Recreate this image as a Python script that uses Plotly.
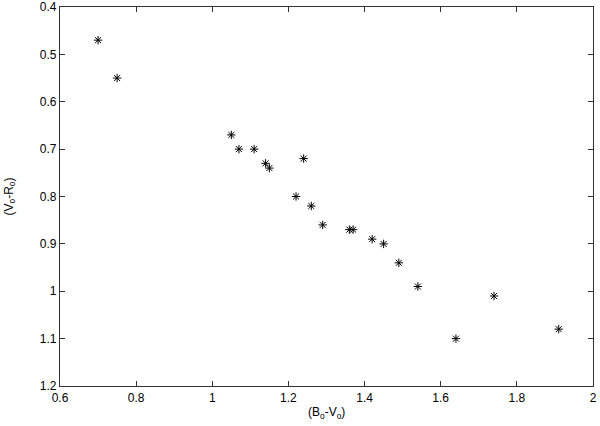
import plotly.graph_objects as go

# colour indices
bv = [0.70, 0.75, 1.05, 1.07, 1.11, 1.14, 1.15, 1.24, 1.22, 1.26,
      1.29, 1.36, 1.37, 1.42, 1.45, 1.49, 1.54, 1.64, 1.74, 1.91]
vr = [0.47, 0.55, 0.67, 0.70, 0.70, 0.73, 0.74, 0.72, 0.80, 0.82,
      0.86, 0.87, 0.87, 0.89, 0.90, 0.94, 0.99, 1.10, 1.01, 1.08]

x_ticks = [0.6, 0.8, 1, 1.2, 1.4, 1.6, 1.8, 2]
y_ticks = [0.4, 0.5, 0.6, 0.7, 0.8, 0.9, 1, 1.1, 1.2]

font_name = 'Liberation Sans, Arial'

fig = go.Figure()
fig.add_trace(go.Scatter(
    x=bv, y=vr, mode='markers',
    marker=dict(symbol='asterisk-open', size=7, color='black',
                line=dict(color='black', width=1)),
    showlegend=False))

axis_style = dict(
    showline=True, linecolor='#333333', linewidth=1.2, mirror='ticks',
    ticks='inside', ticklen=5, tickcolor='#333333', tickwidth=1,
    showgrid=False, zeroline=False, automargin=False,
    tickfont=dict(family=font_name, size=12, color='black'),
)

fig.update_xaxes(range=[0.6, 2.0000001], tickvals=x_ticks,
                 ticktext=[f'{v:g}' for v in x_ticks], **axis_style)
fig.update_yaxes(range=[1.2, 0.4], tickvals=y_ticks,
                 ticktext=[f'{v:g}' for v in y_ticks], **axis_style)

# axis titles placed by hand, gnuplot style
fig.add_annotation(text='(B<sub>o</sub>-V<sub>o</sub>)', xref='paper', yref='paper',
                   x=0.5, y=0, yanchor='top', yshift=-17, showarrow=False,
                   font=dict(family=font_name, size=12, color='black'))
fig.add_annotation(text='(V<sub>o</sub>-R<sub>o</sub>)', xref='paper', yref='paper',
                   x=0, y=0.5, xanchor='right', xshift=-41, textangle=-90,
                   showarrow=False,
                   font=dict(family=font_name, size=12, color='black'))

fig.update_layout(
    width=600, height=426,
    margin=dict(l=60, r=7, t=7, b=40),
    plot_bgcolor='white', paper_bgcolor='white',
    font=dict(family=font_name, color='black'),
)

# drop the default 8px body margin so the figure fills the window
fig.write_html("out.html", config={'displayModeBar': False},
               post_script="document.body.style.margin='0px';")
